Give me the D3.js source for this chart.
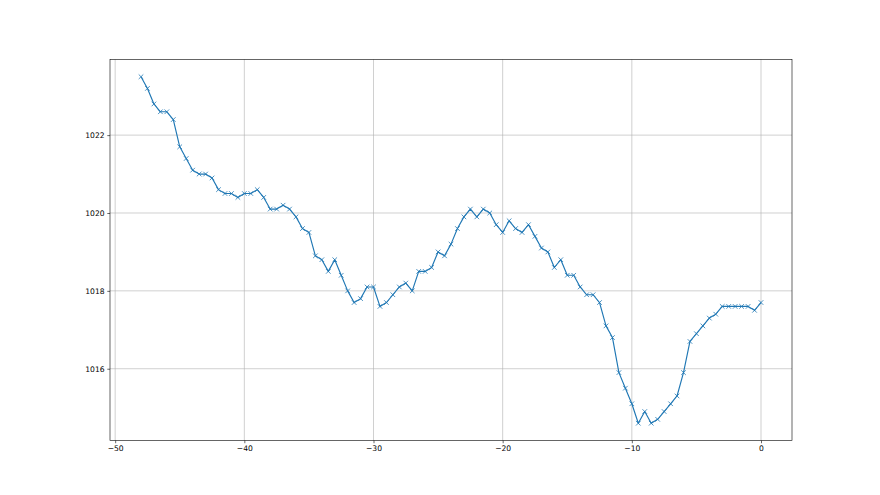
<!DOCTYPE html>
<html>
<head>
<meta charset="utf-8">
<script src="https://cdn.jsdelivr.net/npm/d3@7"></script>
<style>
  html, body { margin: 0; padding: 0; background: #fff; }
  svg { display: block; }
  text { font-family: "DejaVu Sans", sans-serif; }
</style>
</head>
<body>
<div id="chart"></div>
<script>
// x positions: -48 .. 0 step 0.5
const xValues = [
  -48, -47.5, -47, -46.5, -46, -45.5, -45, -44.5, -44, -43.5,
  -43, -42.5, -42, -41.5, -41, -40.5, -40, -39.5, -39, -38.5,
  -38, -37.5, -37, -36.5, -36, -35.5, -35, -34.5, -34, -33.5,
  -33, -32.5, -32, -31.5, -31, -30.5, -30, -29.5, -29, -28.5,
  -28, -27.5, -27, -26.5, -26, -25.5, -25, -24.5, -24, -23.5,
  -23, -22.5, -22, -21.5, -21, -20.5, -20, -19.5, -19, -18.5,
  -18, -17.5, -17, -16.5, -16, -15.5, -15, -14.5, -14, -13.5,
  -13, -12.5, -12, -11.5, -11, -10.5, -10, -9.5, -9, -8.5,
  -8, -7.5, -7, -6.5, -6, -5.5, -5, -4.5, -4, -3.5,
  -3, -2.5, -2, -1.5, -1, -0.5, 0
];
const pressure = [
  1023.5, 1023.2, 1022.8, 1022.6, 1022.6, 1022.4, 1021.7, 1021.4, 1021.1, 1021.0,
  1021.0, 1020.9, 1020.6, 1020.5, 1020.5, 1020.4, 1020.5, 1020.5, 1020.6, 1020.4,
  1020.1, 1020.1, 1020.2, 1020.1, 1019.9, 1019.6, 1019.5, 1018.9, 1018.8, 1018.5,
  1018.8, 1018.4, 1018.0, 1017.7, 1017.8, 1018.1, 1018.1, 1017.6, 1017.7, 1017.9,
  1018.1, 1018.2, 1018.0, 1018.5, 1018.5, 1018.6, 1019.0, 1018.9, 1019.2, 1019.6,
  1019.9, 1020.1, 1019.9, 1020.1, 1020.0, 1019.7, 1019.5, 1019.8, 1019.6, 1019.5,
  1019.7, 1019.4, 1019.1, 1019.0, 1018.6, 1018.8, 1018.4, 1018.4, 1018.1, 1017.9,
  1017.9, 1017.7, 1017.1, 1016.8, 1015.9, 1015.5, 1015.1, 1014.6, 1014.9, 1014.6,
  1014.7, 1014.9, 1015.1, 1015.3, 1015.9, 1016.7, 1016.9, 1017.1, 1017.3, 1017.4,
  1017.6, 1017.6, 1017.6, 1017.6, 1017.6, 1017.5, 1017.7
];
const xTicks = [-50, -40, -30, -20, -10, 0];
const yTicks = [1016, 1018, 1020, 1022];

const W = 880, H = 495;
const margin = { left: 110, right: 88, top: 59.4, bottom: 54.45 };
const pw = W - margin.left - margin.right;
const ph = H - margin.top - margin.bottom;

const svg = d3.select("#chart").append("svg")
  .attr("width", W).attr("height", H);

const xMin = d3.min(xValues), xMax = d3.max(xValues);
const yMin = d3.min(pressure), yMax = d3.max(pressure);
const xPad = (xMax - xMin) * 0.05, yPad = (yMax - yMin) * 0.05;

const x = d3.scaleLinear().domain([xMin - xPad, xMax + xPad]).range([0, pw]);
const y = d3.scaleLinear().domain([yMin - yPad, yMax + yPad]).range([ph, 0]);

const g = svg.append("g").attr("transform", `translate(${margin.left},${margin.top})`);

const fmtMinus = d => String(d).replace("-", "\u2212");

// grid
g.append("g").selectAll("line").data(xTicks).join("line")
  .attr("x1", d => x(d)).attr("x2", d => x(d))
  .attr("y1", 0).attr("y2", ph)
  .attr("stroke", "#b0b0b0").attr("stroke-width", 0.6);
g.append("g").selectAll("line").data(yTicks).join("line")
  .attr("x1", 0).attr("x2", pw)
  .attr("y1", d => y(d)).attr("y2", d => y(d))
  .attr("stroke", "#b0b0b0").attr("stroke-width", 0.6);

// axes
const xAxis = d3.axisBottom(x).tickValues(xTicks).tickFormat(fmtMinus)
  .tickSize(2.7).tickPadding(2.7);
const yAxis = d3.axisLeft(y).tickValues(yTicks).tickFormat(d => d)
  .tickSize(2.7).tickPadding(2.7);

const gx = g.append("g").attr("transform", `translate(0,${ph})`).call(xAxis);
const gy = g.append("g").call(yAxis);
[gx, gy].forEach(a => {
  a.select(".domain").remove();
  a.selectAll(".tick line").attr("stroke", "#000").attr("stroke-width", 0.6);
  a.selectAll(".tick text").attr("fill", "#000")
    .style("font-family", "'DejaVu Sans', sans-serif").style("font-size", "7.6px");
});

// line
const line = d3.line().x((d, i) => x(xValues[i])).y(d => y(d));
g.append("path").datum(pressure)
  .attr("fill", "none").attr("stroke", "#1f77b4").attr("stroke-width", 1.15)
  .attr("stroke-linejoin", "round").attr("d", line);

// x markers
const ms = 2.3;
g.append("g").selectAll("path").data(pressure).join("path")
  .attr("d", (d, i) => {
    const cx = x(xValues[i]), cy = y(d);
    return `M${cx - ms},${cy - ms}L${cx + ms},${cy + ms}M${cx - ms},${cy + ms}L${cx + ms},${cy - ms}`;
  })
  .attr("stroke", "#1f77b4").attr("stroke-width", 0.8).attr("fill", "none");

// spines
g.append("rect").attr("x", 0).attr("y", 0).attr("width", pw).attr("height", ph)
  .attr("fill", "none").attr("stroke", "#000").attr("stroke-width", 0.6);
</script>
</body>
</html>
